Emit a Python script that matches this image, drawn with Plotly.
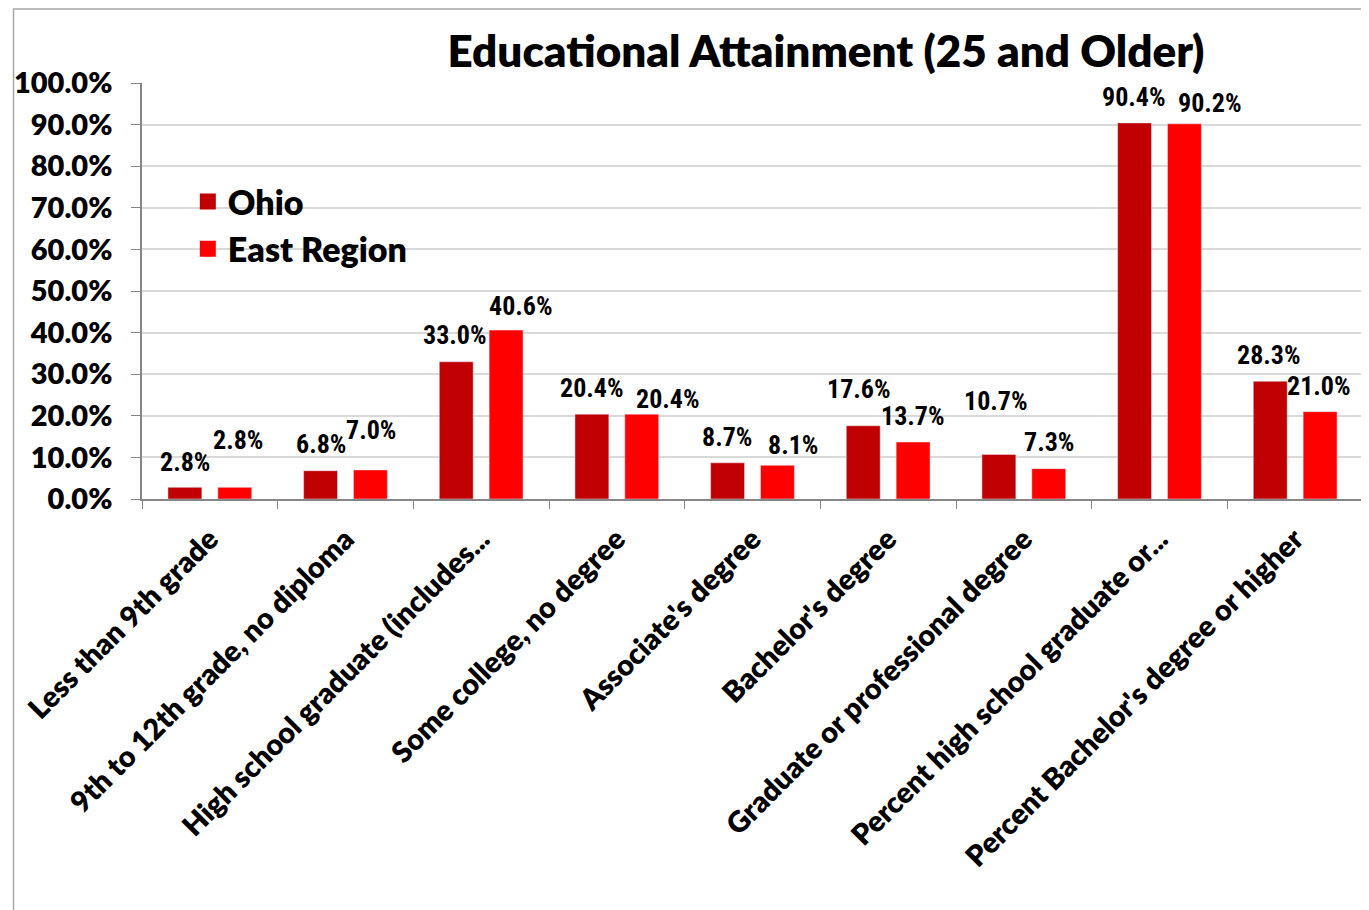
import plotly.graph_objects as go

categories = [
    "Less than 9th grade",
    "9th to 12th grade, no diploma",
    "High school graduate (includes...",
    "Some college, no degree",
    "Associate's degree",
    "Bachelor's degree",
    "Graduate or professional degree",
    "Percent high school graduate or...",
    "Percent Bachelor's degree or higher",
]
ohio = [2.8, 6.8, 33.0, 20.4, 8.7, 17.6, 10.7, 90.4, 28.3]
east_region = [2.8, 7.0, 40.6, 20.4, 8.1, 13.7, 7.3, 90.2, 21.0]

# label nudges (pixels), roughly where Excel left them
ohio_dx = [-25, -25, -26, -25, -26, -29, -28, -26, -26]
ohio_dy = [25, 27, 27, 26, 26, 37, 53, 26, 26]
east_dx = [28, 25, 40, 51, 40, 25, 25, 50, 24]
east_dy = [47, 40, 24, 15, 20, 26, 27, 21, 26]

OHIO_RED = "#C00000"
EAST_RED = "#FF0000"
label_font = dict(family="Liberation Sans Narrow, Roboto Condensed, Arial Narrow, sans-serif",
                  size=26, color="black", weight="bold")
bold_font = "Lato, Calibri, sans-serif"

# page body adds an 8px offset, so the figure is a bit smaller than the window
W, H = 1361, 902
L, T, PW, PH = 129, 75, 1226, 416

fig = go.Figure()
fig.add_trace(go.Bar(x=categories, y=ohio, name="Ohio", marker_color=OHIO_RED,
                     legendgroup="ohio", showlegend=False))
fig.add_trace(go.Bar(x=categories, y=east_region, name="East Region", marker_color=EAST_RED,
                     legendgroup="east", showlegend=False))
# legend entries with bigger square keys (like the Excel legend)
fig.add_trace(go.Scatter(x=[None], y=[None], mode="markers", name="Ohio", legendgroup="ohio",
                         marker=dict(symbol="square", size=20, color=OHIO_RED)))
fig.add_trace(go.Scatter(x=[None], y=[None], mode="markers", name="East Region", legendgroup="east",
                         marker=dict(symbol="square", size=20, color=EAST_RED)))

for cat, v, dx, dy in zip(categories, ohio, ohio_dx, ohio_dy):
    fig.add_annotation(x=cat, y=v, text=f"{v:.1f}%", showarrow=False,
                       xshift=dx, yshift=dy, font=label_font)
for cat, v, dx, dy in zip(categories, east_region, east_dx, east_dy):
    fig.add_annotation(x=cat, y=v, text=f"{v:.1f}%", showarrow=False,
                       xshift=dx, yshift=dy, font=label_font)

# outer chart border
fig.add_shape(type="rect", xref="paper", yref="paper",
              x0=(0 - L) / PW, x1=(1356 - L) / PW,
              y0=(T + PH - 910) / PH, y1=(T + PH - 1) / PH,
              line=dict(color="#A6A6A6", width=1.5), layer="below")

fig.update_layout(
    width=W, height=H,
    margin=dict(l=L, r=W - L - PW, t=T, b=H - T - PH),
    paper_bgcolor="white", plot_bgcolor="white",
    barmode="group", bargap=0.265, bargroupgap=0.32,
    title=dict(text="Educational Attainment (25 and Older)",
               x=818 / W, xref="container", xanchor="center",
               y=1 - 44 / H, yref="container", yanchor="middle",
               font=dict(family=bold_font, size=44, color="black", weight=800)),
    legend=dict(x=(175 - L) / PW, y=(T + PH - 165) / PH, xanchor="left", yanchor="top",
                bgcolor="rgba(0,0,0,0)", itemsizing="trace",
                font=dict(family=bold_font, size=34, color="black", weight=800),
                tracegroupgap=0),
    showlegend=True,
)
fig.update_xaxes(
    type="category", tickangle=-45, tickson="boundaries", ticks="outside", ticklen=8,
    tickcolor="#868686", showline=True, linecolor="#868686", linewidth=1.5,
    ticklabelstandoff=10,
    tickfont=dict(family=bold_font, size=29, color="black", weight=800),
)
fig.update_yaxes(
    range=[0, 100], dtick=10, tickformat=".1f", ticksuffix="%",
    ticks="outside", ticklen=9, tickcolor="#868686",
    showline=True, linecolor="#868686", linewidth=1.5,
    showgrid=True, gridcolor="#D9D9D9", gridwidth=1.5, zeroline=False,
    ticklabelstandoff=13,
    tickfont=dict(family=bold_font, size=29, color="black", weight=800),
)

fig.write_html("out.html")
